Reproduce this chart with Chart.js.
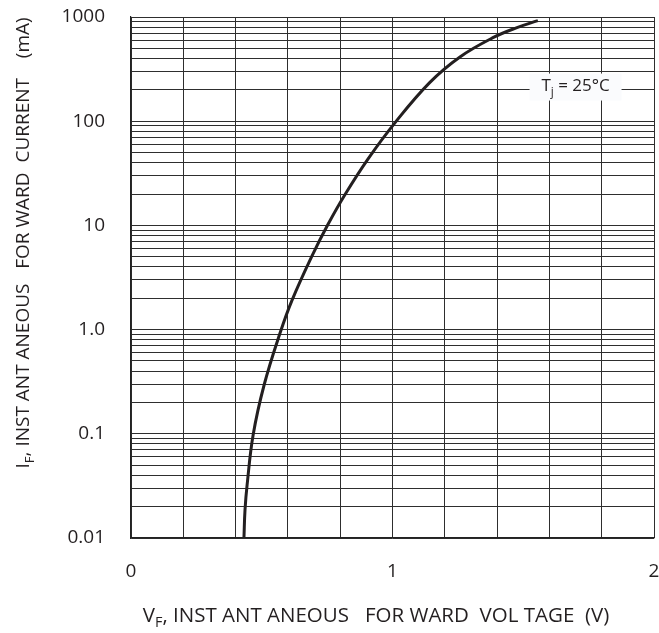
<!DOCTYPE html>
<html>
<head>
<meta charset="utf-8">
<script src="https://cdn.jsdelivr.net/npm/chart.js@4.4.0/dist/chart.umd.min.js"></script>
<style>
  html, body { margin: 0; padding: 0; background: #fff; }
</style>
</head>
<body>
<canvas id="chart" width="659" height="633"></canvas>
<script>
// Forward voltage (V) vs. forward current (mA)
const forwardVoltage = [0.432, 0.436, 0.444, 0.467, 0.509, 0.570, 0.616, 0.696, 0.753, 0.818, 0.906, 1.010, 1.143, 1.258, 1.384, 1.476, 1.556];
const forwardCurrent = [0.0102, 0.0186, 0.0323, 0.0974, 0.294, 0.927, 1.92, 5.34, 10.2, 19.7, 43.3, 97.0, 236, 414, 633, 791, 922];

// Axis ticks
const xTickValues = [0, 1, 2];
const yDecades = [0.01, 0.1, 1, 10, 100, 1000];
const yTickLabels = ['0.01', '0.1', '1.0', '10', '100', '1000'];

const FONT = '"Open Sans", "Noto Sans", sans-serif';
const textColor = '#231f20';
const gridColor = '#2e2e2e';

// Draw centred text with subscript parts: [[text, isSub], ...]
function drawRich(ctx, parts, size) {
    let total = 0;
    parts.forEach(p => {
        ctx.font = (p[1] ? size * 0.7 : size) + 'px ' + FONT;
        total += ctx.measureText(p[0]).width;
    });
    let x = -total / 2;
    parts.forEach(p => {
        ctx.font = (p[1] ? size * 0.7 : size) + 'px ' + FONT;
        ctx.fillText(p[0], x, p[1] ? size * 0.35 : 0);
        x += ctx.measureText(p[0]).width;
    });
}

const labelsPlugin = {
    id: 'labels',
    afterDatasetsDraw(chart) {
        const ctx = chart.ctx;
        const xs = chart.scales.x, ys = chart.scales.y;

        // junction temperature note
        ctx.save();
        ctx.textBaseline = 'middle';
        ctx.textAlign = 'left';
        const tx = xs.getPixelForValue(1.7);
        const ty = ys.getPixelForValue(215);
        ctx.fillStyle = '#fafbfd';
        ctx.fillRect(tx - 46, ty - 13, 92, 27);
        ctx.fillStyle = textColor;
        ctx.translate(tx, ty);
        drawRich(ctx, [['T', false], ['j', true], [' = 25°C', false]], 17);
        ctx.restore();

        // x axis title
        ctx.save();
        ctx.fillStyle = textColor;
        ctx.textBaseline = 'middle';
        ctx.textAlign = 'left';
        ctx.translate(376, 616);
        drawRich(ctx, [['V', false], ['F', true], [', INST ANT ANEOUS   FOR WARD  VOL TAGE  (V)', false]], 20.5);
        ctx.restore();

        // y axis title
        ctx.save();
        ctx.fillStyle = textColor;
        ctx.textBaseline = 'middle';
        ctx.textAlign = 'left';
        ctx.translate(24, 243);
        ctx.rotate(-Math.PI / 2);
        drawRich(ctx, [['I', false], ['F', true], [', INST ANT ANEOUS   FOR WARD  CURRENT    (mA)', false]], 19);
        ctx.restore();
    }
};

function noPad(s) {
    s.paddingTop = 0;
    s.paddingBottom = 0;
    s.paddingLeft = 0;
    s.paddingRight = 0;
}

new Chart(document.getElementById('chart'), {
    type: 'line',
    data: {
        datasets: [{
            data: forwardVoltage.map((v, i) => ({ x: v, y: forwardCurrent[i] })),
            borderColor: '#231f20',
            borderWidth: 3,
            pointRadius: 0,
            fill: false,
            tension: 0.4
        }]
    },
    options: {
        responsive: false,
        animation: false,
        layout: { padding: { left: 0, top: 17, right: 5, bottom: 0 } },
        plugins: {
            legend: { display: false },
            tooltip: { enabled: false }
        },
        scales: {
            x: {
                type: 'linear',
                min: 0,
                max: 2,
                afterFit: s => { s.height = 95; noPad(s); },
                ticks: {
                    stepSize: 0.2,
                    autoSkip: false,
                    maxRotation: 0,
                    padding: 22,
                    color: textColor,
                    font: { family: FONT, size: 19 },
                    callback: v => xTickValues.some(t => Math.abs(t - v) < 1e-6) ? String(Math.round(v)) : ''
                },
                grid: { color: gridColor, lineWidth: 1, drawTicks: false },
                border: { color: '#222', width: 1.2 }
            },
            y: {
                type: 'logarithmic',
                min: 0.01,
                max: 1000,
                afterFit: s => { s.width = 131; noPad(s); },
                afterBuildTicks: s => {
                    const ticks = [];
                    yDecades.forEach(d => {
                        if (d === 1000) { ticks.push({ value: d }); return; }
                        for (let m = 1; m <= 9; m++) ticks.push({ value: +(d * m).toPrecision(3) });
                    });
                    s.ticks = ticks;
                },
                ticks: {
                    autoSkip: false,
                    padding: 26,
                    color: textColor,
                    font: { family: FONT, size: 19 },
                    callback: v => {
                        const i = yDecades.findIndex(d => Math.abs(d - v) / d < 1e-6);
                        return i >= 0 ? yTickLabels[i] : '';
                    }
                },
                grid: { color: gridColor, lineWidth: 1, drawTicks: false },
                border: { color: '#222', width: 1.2 }
            }
        }
    },
    plugins: [labelsPlugin]
});
</script>
</body>
</html>
